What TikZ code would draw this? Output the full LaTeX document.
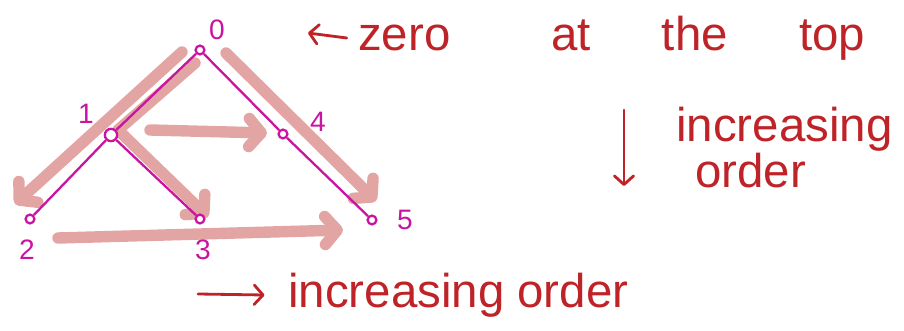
\documentclass[tikz,border=0pt]{standalone}
\usepackage{fontspec}
\setmainfont{Liberation Sans}
\usetikzlibrary{positioning, arrows.meta, calc}
\definecolor{treeline}{RGB}{200,20,160}
\definecolor{sweep}{RGB}{227,165,163}
\definecolor{ink}{RGB}{190,35,40}

\begin{document}
\begin{tikzpicture}[x=0.02cm, y=-0.02cm,
  vertex/.style={draw=treeline, line width=1.3pt, circle, fill=white, inner sep=0pt, minimum size=5pt},
  num/.style={text=treeline, font=\fontsize{16}{16}\selectfont},
  edge/.style={draw=treeline, line width=1.3pt},
  sweeparrow/.style={draw=sweep, line width=6.5pt, line cap=round, line join=round, -{Straight Barb[length=7pt,width=16pt,round]}},
  note/.style={text=ink, font=\fontsize{27}{24}\selectfont},
  pointer/.style={draw=ink, line width=1.6pt, line cap=round, -{Straight Barb[length=5pt,width=11pt,round]}}]
\useasboundingbox (0,0) rectangle (904,331);

\coordinate (a0) at (182,52);
\coordinate (a2) at (15,204);
\coordinate (b0) at (195,63);
\coordinate (b1) at (118,130);
\coordinate (b3) at (208,217);
\coordinate (c1) at (150,130);
\coordinate (c4) at (267,133);
\coordinate (d0) at (226,53);
\coordinate (d5) at (376,201);
\coordinate (e2) at (58,238);
\coordinate (e5) at (343,230);

\draw[sweeparrow] (a0) -- (a2);
\draw[sweeparrow] (b0) -- (b1) -- (b3);
\draw[sweeparrow] (c1) -- (c4);
\draw[sweeparrow] (d0) -- (d5);
\draw[sweeparrow] (e2) -- (e5);

\node[vertex] (n0) at (200,50) {};
\node[vertex, minimum size=7pt] (n1) at (111,135) {};
\node[vertex] (n4) at (283,134) {};
\node[vertex] (n2) at (30,219) {};
\node[vertex] (n3) at (200,219) {};
\node[vertex] (n5) at (372,220) {};

\draw[edge] (n0) -- (n1);
\draw[edge] (n1) -- (n2);
\draw[edge] (n1) -- (n3);
\draw[edge] (n0) -- (n4);
\draw[edge] (n4) -- (n5);

\node[num] (l0) at (217,30) {0};
\node[num] (l1) at (86,114) {1};
\node[num] (l4) at (318,122) {4};
\node[num] (l2) at (27,250) {2};
\node[num] (l3) at (203,250) {3};
\node[num] (l5) at (405,220) {5};

\node[note, anchor=west] (zero) at (352,38) {zero};
\node[note, anchor=west] (top) at (545,38) {at\hspace{1.5em}the\hspace{1.5em}top};
\node[note, anchor=west, align=left] (inc) at (670,148) {increasing\\\hspace*{0.4em}order};
\node[note, anchor=west] (inc2) at (282,295) {increasing order};

\coordinate (z) at (308,33);
\coordinate (dtop) at (624,110);
\coordinate (dbot) at (624,186);
\coordinate (rtail) at (198,294);

\draw[pointer] ([xshift=-3pt]zero.west) -- (z);
\draw[pointer] (dtop) -- (dbot);
\draw[pointer] (rtail) -- ([xshift=-10pt]inc2.west);
\end{tikzpicture}
\end{document}
